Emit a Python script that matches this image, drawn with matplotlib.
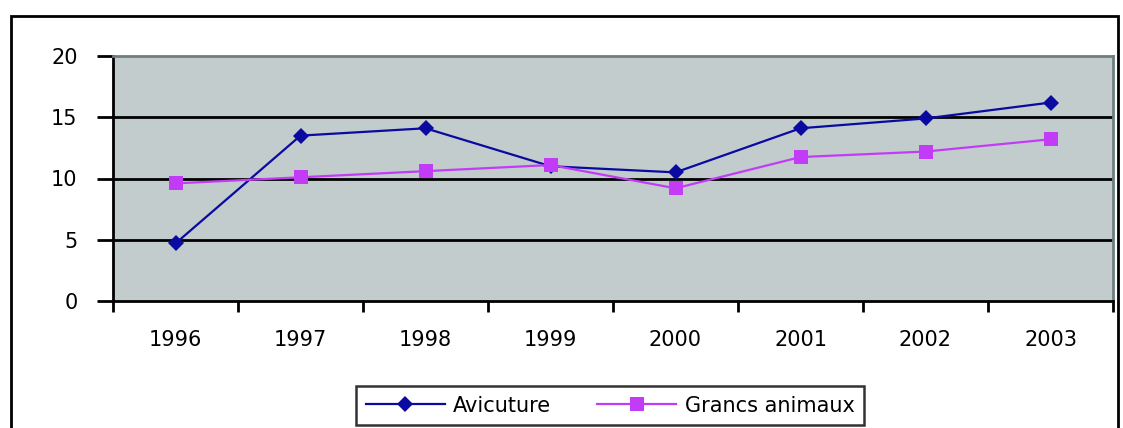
import matplotlib
matplotlib.use("Agg")
import matplotlib.pyplot as plt
from matplotlib.patches import Rectangle

years = ["1996", "1997", "1998", "1999", "2000", "2001", "2002", "2003"]
aviculture = [4.7, 13.5, 14.1, 11.0, 10.5, 14.1, 14.9, 16.2]
grands_animaux = [9.6, 10.1, 10.6, 11.1, 9.2, 11.75, 12.2, 13.2]
y_ticks = [0, 5, 10, 15, 20]

W, H = 1123, 428
fig = plt.figure(figsize=(W / 100, H / 100), dpi=100)
fig.patch.set_facecolor("white")

# outer chart frame
fig.patches.append(Rectangle((11 / W, -0.05), (1118 - 11) / W, 1 - 16 / H + 0.05,
                             transform=fig.transFigure, fill=False,
                             edgecolor="black", linewidth=2, zorder=0))

ax = fig.add_axes([113 / W, 127 / H, 1000 / W, 245 / H])
ax.set_facecolor("#C2CCCC")

x = list(range(len(years)))
ax.set_xlim(-0.5, len(years) - 0.5)
ax.set_ylim(0, 20)

for v in y_ticks[1:-1]:
    ax.axhline(v, color="black", linewidth=2, zorder=1)

ax.plot(x, aviculture, color="#0A0AA0", linewidth=1.6, marker="D",
        markersize=8, markeredgewidth=0, label="Avicuture", zorder=3)
ax.plot(x, grands_animaux, color="#C23CF8", linewidth=1.6, marker="s",
        markersize=9.5, markeredgewidth=0, label="Grancs animaux", zorder=3)

ax.set_yticks(y_ticks)
ax.set_yticklabels([str(v) for v in y_ticks], fontsize=15)
ax.tick_params(axis="y", length=11.5, width=2, pad=14, color="black")

ax.set_xticks([i - 0.5 for i in range(len(years) + 1)], minor=False)
ax.set_xticklabels([])
ax.set_xticks(x, minor=True)
ax.set_xticklabels(years, minor=True, fontsize=15)
ax.tick_params(axis="x", which="major", length=8, width=2, direction="out")
ax.tick_params(axis="x", which="minor", length=0, pad=21)

for side in ["left", "bottom"]:
    ax.spines[side].set_color("black")
    ax.spines[side].set_linewidth(2)
for side in ["top", "right"]:
    ax.spines[side].set_color("#6E7E7E")
    ax.spines[side].set_linewidth(2)

leg = fig.legend(loc="lower center", bbox_to_anchor=(610 / W, 3 / H), ncol=2,
                 fontsize=15, frameon=True, fancybox=False, edgecolor="black",
                 handlelength=3.8, handletextpad=0.4, columnspacing=2.2,
                 borderpad=0.45, borderaxespad=0)
leg.get_frame().set_linewidth(1.8)

fig.savefig("out.png", dpi=100, facecolor="white")
